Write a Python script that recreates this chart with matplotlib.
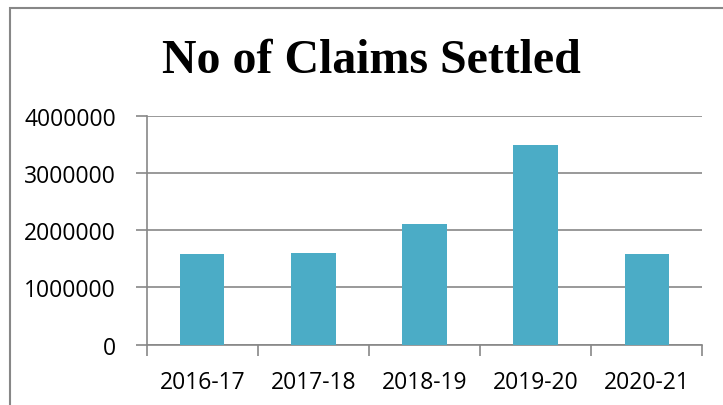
import matplotlib
matplotlib.use("Agg")
import matplotlib.pyplot as plt
from matplotlib.patches import Rectangle

categories = ["2016-17", "2017-18", "2018-19", "2019-20", "2020-21"]
claims_settled = [1585000, 1600000, 2100000, 3490000, 1585000]
y_ticks = [0, 1000000, 2000000, 3000000, 4000000]
title = "No of Claims Settled"

W, H = 723, 406
fig = plt.figure(figsize=(W / 100, H / 100), dpi=100)
fig.patch.set_facecolor("white")

# outer chart border (left and top visible, rest outside the picture)
fig.patches.append(Rectangle((10 / W, -0.1), 1.2, (H - 9) / H + 0.1,
                             transform=fig.transFigure, fill=False,
                             edgecolor="#878787", linewidth=1.5))

ax = fig.add_axes([146.7 / W, (H - 345.7) / H, (702.3 - 146.7) / W, (345.7 - 116.7) / H])
x = list(range(len(categories)))
ax.bar(x, claims_settled, width=0.4, color="#4BACC6", zorder=3)

grid_c = "#878787"
ax.set_xlim(-0.5, len(categories) - 0.5)
ax.set_ylim(0, 4000000)
ax.set_yticks(y_ticks)
ax.set_yticklabels([str(v) for v in y_ticks])
ax.yaxis.grid(True, color=grid_c, linewidth=1.2, zorder=0)
ax.set_axisbelow(True)

ax.set_xticks([i - 0.5 for i in range(len(categories) + 1)])
ax.set_xticklabels([])
ax.set_xticks(x, minor=True)
ax.set_xticklabels(categories, minor=True)
ax.tick_params(axis="x", which="minor", length=0, pad=18)
ax.tick_params(axis="x", which="major", length=8, width=1.2, color=grid_c, direction="out")
ax.tick_params(axis="y", length=8, width=1.2, color=grid_c, direction="out", pad=14)

for lbl in ax.get_xticklabels(minor=True) + ax.get_yticklabels():
    lbl.set_fontfamily("Open Sans")
    lbl.set_fontsize(16.5)
    lbl.set_color("black")

for s in ["top", "right"]:
    ax.spines[s].set_visible(False)
for s in ["left", "bottom"]:
    ax.spines[s].set_color(grid_c)
    ax.spines[s].set_linewidth(1.2)

fig.text(371 / W, (H - 73) / H, title, ha="center", va="baseline",
         fontfamily="Liberation Serif", fontweight="bold", fontsize=34.5, color="black")

fig.savefig("out.png", dpi=100, facecolor="white")
